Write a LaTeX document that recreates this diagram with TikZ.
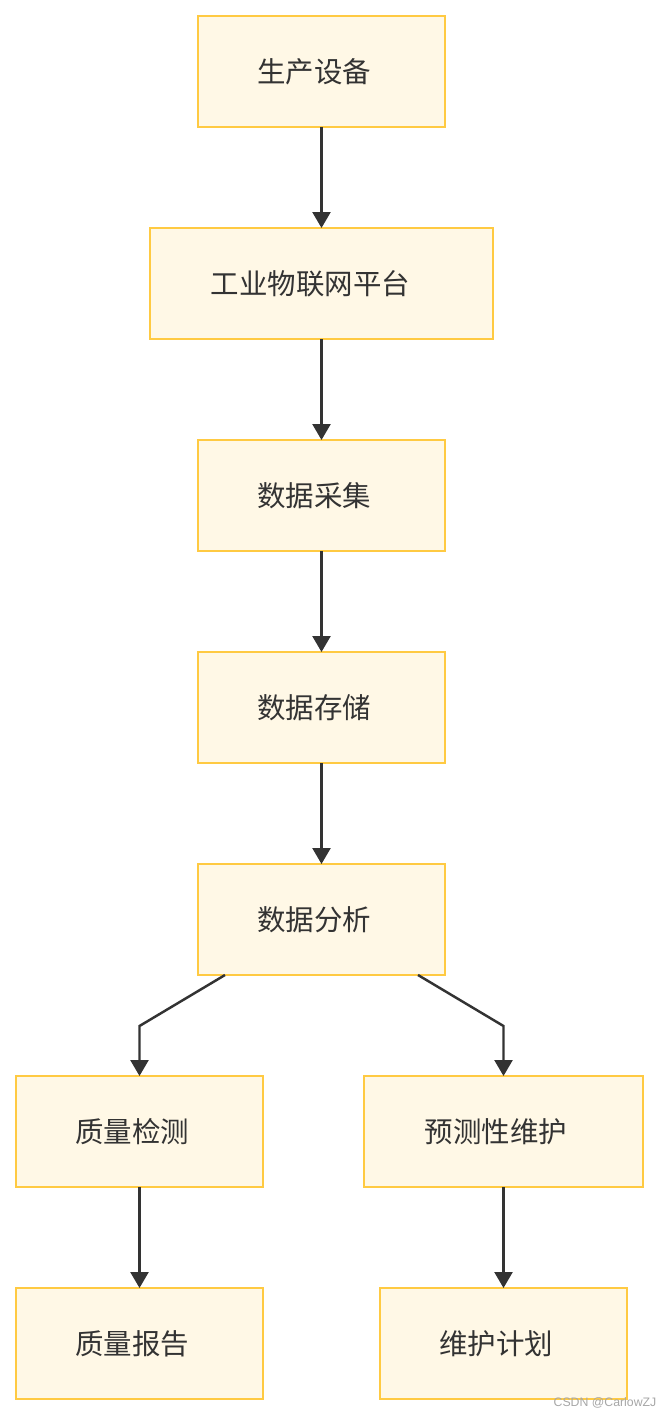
\documentclass[tikz,border=0pt]{standalone}
\usepackage{fontspec}
\newfontfamily\cjk{Noto Sans CJK SC}
\setsansfont{Liberation Sans}
\usepackage{xcolor}
\usepackage{tikz}
\usetikzlibrary{arrows.meta, positioning, calc}

\definecolor{boxfill}{HTML}{FFF8E6}
\definecolor{boxline}{HTML}{FFCA42}
\definecolor{ink}{HTML}{333333}

\begin{document}
\begin{tikzpicture}[
    stage/.style={draw=boxline, line width=1.2pt, fill=boxfill, outer sep=0pt, minimum width=4.94cm, minimum height=2.22cm, font=\cjk\fontsize{16.2}{19}\selectfont, text=ink, execute at begin node={\kern-0.3cm}},
    widestage/.style={stage, minimum width=6.86cm, execute at begin node={\kern-0.14cm}},
    arr/.style={-{Triangle[length=0.32cm, width=0.36cm]}, line width=1.4pt, draw=ink},
    node distance=2.02cm,
]
\useasboundingbox (0,0) rectangle (13.2,-28.32);

% Main chain
\node[stage] (device) at (6.43,-1.43) {生产设备};
\node[widestage, below=of device] (iot) {工业物联网平台};
\node[stage, below=of iot] (collect) {数据采集};
\node[stage, below=of collect] (store) {数据存储};
\node[stage, below=of store] (analyse) {数据分析};

\draw[arr] (device) -- (iot);
\draw[arr] (iot) -- (collect);
\draw[arr] (collect) -- (store);
\draw[arr] (store) -- (analyse);

% Two branches
\node[stage] (quality) at (2.79,-22.63) {质量检测};
\node[stage, minimum width=5.58cm] (predict) at (10.07,-22.63) {预测性维护};
\node[stage, below=of quality] (report) {质量报告};
\node[stage, below=of predict] (plan) {维护计划};

\draw[arr] ($(analyse.south)+(-1.93,0)$) -- ($(quality.north)+(0,1)$) -- (quality);
\draw[arr] ($(analyse.south)+(1.93,0)$) -- ($(predict.north)+(0,1)$) -- (predict);
\draw[arr] (quality) -- (report);
\draw[arr] (predict) -- (plan);

% Watermark
\node[font=\sffamily\fontsize{7}{8}\selectfont, text=gray!70] (mark) at (12.1,-28.06) {CSDN @CarlowZJ};

\end{tikzpicture}
\end{document}
